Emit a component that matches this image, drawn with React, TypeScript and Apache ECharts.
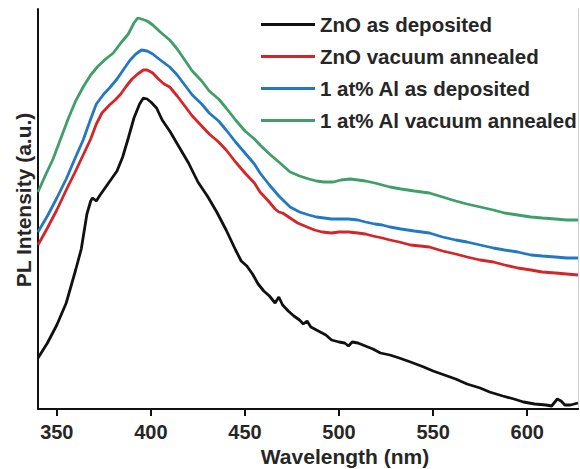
import { useEffect, useRef } from "react";
import * as echarts from "echarts";

// Photoluminescence spectra: [wavelength (nm), intensity (a.u.)]
const seriesNames = [
  "ZnO as deposited",
  "ZnO vacuum annealed",
  "1 at% Al as deposited",
  "1 at% Al vacuum annealed",
];
const seriesColors = ["#111111", "#d42628", "#2378c3", "#3f9f69"];

const znoAsDeposited = [
  [340, 51], [345, 66], [350, 84], [355, 106], [360, 139], [363, 160], [366, 195], [368, 208],
  [369, 211], [371, 208], [373, 214], [376, 222], [379, 230], [382, 238], [385, 252], [388, 271],
  [391, 291], [394, 305], [396, 311], [398, 310], [400, 307], [403, 301], [406, 289], [410, 278],
  [415, 262], [420, 246], [425, 227], [430, 213], [435, 197], [440, 179], [445, 159], [448, 148],
  [451, 143], [454, 135], [457, 125], [460, 118], [463, 113], [466, 106], [468, 112], [470, 104],
  [473, 98], [476, 93], [479, 89], [481, 85], [483, 88], [485, 82], [490, 77], [493, 74],
  [496, 69], [500, 67], [503, 66], [505, 63], [507, 67], [510, 66], [514, 63], [518, 60],
  [522, 56], [527, 54], [532, 51], [538, 47], [545, 42], [550, 38], [556, 34], [562, 30],
  [568, 25], [575, 21], [580, 17], [587, 13], [593, 10], [598, 7], [604, 5], [610, 4],
  [613, 3], [616, 10], [618, 8], [620, 4], [623, 4], [627, 6],
];

const znoVacuumAnnealed = [
  [340, 164], [345, 181], [350, 199], [355, 219], [360, 238], [365, 258], [368, 270], [371, 285],
  [374, 296], [378, 304], [381, 309], [384, 315], [387, 323], [390, 330], [393, 335], [396, 339],
  [398, 339], [401, 336], [404, 330], [407, 325], [410, 322], [414, 313], [418, 303], [422, 293],
  [426, 285], [431, 275], [436, 267], [440, 259], [445, 247], [450, 236], [455, 226], [458, 217],
  [462, 209], [466, 200], [468, 197], [470, 196], [474, 191], [478, 186], [483, 182], [487, 179],
  [491, 177], [496, 176], [500, 177], [505, 177], [510, 176], [514, 175], [518, 173], [523, 171],
  [527, 169], [532, 167], [538, 164], [543, 163], [548, 162], [555, 158], [562, 155], [568, 152],
  [575, 149], [582, 147], [588, 144], [595, 141], [602, 139], [608, 137], [615, 136], [621, 135],
  [627, 134],
];

const alAsDeposited = [
  [340, 177], [345, 193], [350, 211], [355, 230], [360, 252], [364, 269], [368, 290], [371, 305],
  [375, 315], [378, 321], [382, 330], [386, 341], [389, 349], [392, 355], [395, 359], [398, 358],
  [401, 355], [405, 349], [410, 342], [414, 334], [418, 324], [422, 314], [427, 305], [431, 296],
  [436, 288], [440, 279], [445, 267], [450, 256], [455, 245], [458, 236], [463, 224], [468, 213],
  [474, 202], [479, 197], [484, 194], [488, 192], [492, 191], [496, 190], [500, 190], [505, 190],
  [510, 189], [514, 187], [519, 185], [523, 184], [527, 182], [533, 180], [540, 178], [548, 176],
  [555, 172], [562, 169], [568, 167], [575, 164], [582, 161], [588, 159], [595, 157], [602, 154],
  [608, 153], [615, 152], [621, 151], [627, 151],
];

const alVacuumAnnealed = [
  [340, 217], [344, 234], [348, 250], [352, 270], [356, 290], [360, 308], [364, 322], [368, 334],
  [372, 343], [376, 350], [380, 356], [384, 366], [388, 375], [391, 386], [393, 391], [395, 390],
  [398, 388], [401, 384], [405, 377], [410, 369], [414, 360], [418, 349], [422, 338], [427, 328],
  [431, 318], [436, 310], [440, 301], [445, 289], [450, 278], [455, 270], [458, 264], [463, 255],
  [468, 247], [474, 237], [479, 233], [484, 230], [488, 228], [492, 227], [497, 227], [501, 229],
  [506, 230], [510, 229], [514, 228], [519, 226], [523, 224], [527, 222], [533, 220], [540, 218],
  [548, 216], [555, 212], [562, 208], [568, 205], [575, 202], [582, 199], [588, 196], [595, 194],
  [602, 192], [608, 191], [615, 190], [621, 189], [627, 189],
];

const seriesData = [znoAsDeposited, znoVacuumAnnealed, alAsDeposited, alVacuumAnnealed];
const xTicks = [350, 400, 450, 500, 550, 600];
const xMin = 340;
const xMax = 627;

const FONT = '"Liberation Sans", Arial, Helvetica, sans-serif';
const TEXT = "#262626";

export default function App() {
  const ref = useRef<HTMLDivElement>(null);

  useEffect(() => {
    const chart = echarts.init(ref.current!, null, { renderer: "svg" });
    chart.setOption({
      animation: false,
      backgroundColor: "#ffffff",
      grid: { left: 38, right: 2, top: 9, bottom: 60, containLabel: false },
      legend: {
        data: seriesNames,
        orient: "vertical",
        left: 261,
        top: 14,
        padding: 0,
        itemGap: 11,
        itemWidth: 54,
        itemHeight: 3,
        icon: "rect",
        textStyle: {
          fontFamily: FONT,
          fontWeight: "bold",
          fontSize: 20.5,
          lineHeight: 20,
          color: TEXT,
        },
      },
      xAxis: [
        {
          type: "value",
          min: xMin,
          max: xMax,
          position: "bottom",
          splitLine: { show: false },
          axisLine: { show: true, lineStyle: { color: "#111", width: 2 } },
          axisTick: {
            show: true,
            customValues: xTicks,
            length: 7,
            inside: false,
            lineStyle: { color: "#111", width: 2 },
          },
          axisLabel: {
            customValues: xTicks,
            margin: 13,
            fontFamily: FONT,
            fontWeight: "bold",
            fontSize: 20,
            color: TEXT,
          },
        },
        {
          type: "value",
          min: xMin,
          max: xMax,
          position: "top",
          splitLine: { show: false },
          axisLine: { show: true, lineStyle: { color: "#111", width: 2 } },
          axisTick: { show: false },
          axisLabel: { show: false },
        },
      ],
      yAxis: [
        {
          type: "value",
          min: 0,
          max: 400,
          splitLine: { show: false },
          axisLine: { show: true, lineStyle: { color: "#111", width: 2 } },
          axisTick: { show: false },
          axisLabel: { show: false },
        },
        {
          type: "value",
          min: 0,
          max: 400,
          position: "right",
          splitLine: { show: false },
          axisLine: { show: true, lineStyle: { color: "#d0d0d0", width: 1 } },
          axisTick: { show: false },
          axisLabel: { show: false },
        },
      ],
      graphic: [
        {
          type: "text",
          x: 345,
          y: 456,
          style: {
            text: "Wavelength (nm)",
            font: `bold 21px ${FONT}`,
            fill: TEXT,
            align: "center",
            verticalAlign: "middle",
          },
        },
        {
          type: "text",
          x: 23,
          y: 200,
          rotation: Math.PI / 2,
          style: {
            text: "PL Intensity (a.u.)",
            font: `bold 21px ${FONT}`,
            fill: TEXT,
            align: "center",
            verticalAlign: "middle",
          },
        },
      ],
      series: seriesNames.map((name, i) => ({
        name,
        type: "line",
        xAxisIndex: 0,
        yAxisIndex: 0,
        data: seriesData[i],
        showSymbol: false,
        smooth: false,
        color: seriesColors[i],
        lineStyle: { width: 2.8, color: seriesColors[i] },
        z: 4 - i,
      })),
    });
    return () => chart.dispose();
  }, []);

  return (
    <div
      ref={ref}
      style={{ position: "fixed", left: 0, top: 0, width: 580, height: 469 }}
    />
  );
}
